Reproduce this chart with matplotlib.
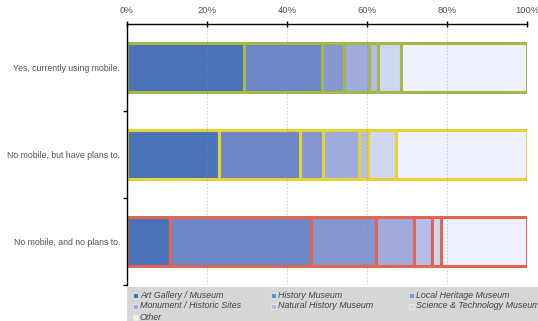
import matplotlib
matplotlib.use("Agg")
import matplotlib.pyplot as plt
from matplotlib.patches import Rectangle
import numpy as np

plt.rcParams['font.family'] = ['Liberation Sans', 'DejaVu Sans']

categories = ["Yes, currently using mobile.",
              "No mobile, but have plans to.",
              "No mobile, and no plans to."]
series = ["Art Gallery / Museum", "History Museum", "Local Heritage Museum",
          "Monument / Historic Sites", "Natural History Museum",
          "Science & Technology Museum", "Other"]
values = {
    "Art Gallery / Museum":        [29.3, 23.0, 10.8],
    "History Museum":              [19.4, 20.2, 35.3],
    "Local Heritage Museum":       [5.6, 5.7, 16.1],
    "Monument / Historic Sites":   [6.2, 9.0, 9.5],
    "Natural History Museum":      [2.3, 2.3, 4.6],
    "Science & Technology Museum": [5.7, 7.0, 2.3],
    "Other":                       [31.5, 32.8, 21.4],
}
xticklabels = ["0%", "20%", "40%", "60%", "80%", "100%"]

fills = ["#4a73b9", "#6c86c6", "#8597cf", "#9eabdc", "#b4bee6", "#cfd6f0", "#eef0fb"]
edges = ["#a4b84a", "#e5d334", "#df6752"]

W, H = 538, 321
fig = plt.figure(figsize=(W / 100, H / 100), dpi=100)
ax = fig.add_axes([127 / W, 1 - 285 / H, (527 - 127) / W, (285 - 24) / H])

y = np.arange(len(categories))
left = np.zeros(len(categories))
for s, c in zip(series, fills):
    v = np.array(values[s])
    ax.barh(y, v, left=left, height=0.57, color=c, edgecolor=edges,
            linewidth=2.2, zorder=2)
    left += v

ax.set_xlim(0, 100)
ax.set_ylim(2.5, -0.5)
ax.xaxis.tick_top()
ax.set_xticks([0, 20, 40, 60, 80, 100])
ax.set_xticklabels(xticklabels)
ax.tick_params(axis='x', direction='inout', length=5, width=1, colors='black',
               labelcolor='#555555', labelsize=6.8, pad=4)
for gx in [20, 40, 60, 80, 100]:
    ax.axvline(gx, color='#888888', lw=0.6, ls=(0, (2, 2)), alpha=0.45, zorder=3)

ax.set_yticks(y)
ax.set_yticklabels(categories)
ax.tick_params(axis='y', length=0, labelcolor='#555555', labelsize=6.3, pad=5)
ax.set_yticks([0.5, 1.5, 2.5], minor=True)
ax.tick_params(axis='y', which='minor', length=3, width=1, color='black')

for sp in ['right', 'bottom']:
    ax.spines[sp].set_visible(False)
ax.spines['top'].set_linewidth(1.0)
ax.spines['left'].set_linewidth(1.0)
ax.patch.set_alpha(0)

# manual legend box
fig.patches.append(Rectangle((127 / W, 0), (W - 127) / W, (H - 287) / H,
                             transform=fig.transFigure, facecolor='#d6d6d6',
                             edgecolor='none', zorder=5))
col_x = [135, 273, 411]
row_y = [295, 306, 317]
for i, (s, c) in enumerate(zip(series, fills)):
    r, k = divmod(i, 3)
    mx, my = col_x[k], row_y[r]
    fig.patches.append(Rectangle(((mx - 2.5) / W, 1 - (my + 2.5) / H), 5 / W, 5 / H,
                                 transform=fig.transFigure, facecolor=c,
                                 edgecolor='#eeeeee', linewidth=0.5, zorder=6))
    fig.text((mx + 5) / W, 1 - my / H, s, fontsize=6.4, style='italic',
             color='#444444', va='center', ha='left', zorder=7)

fig.savefig("out.png", dpi=100)
